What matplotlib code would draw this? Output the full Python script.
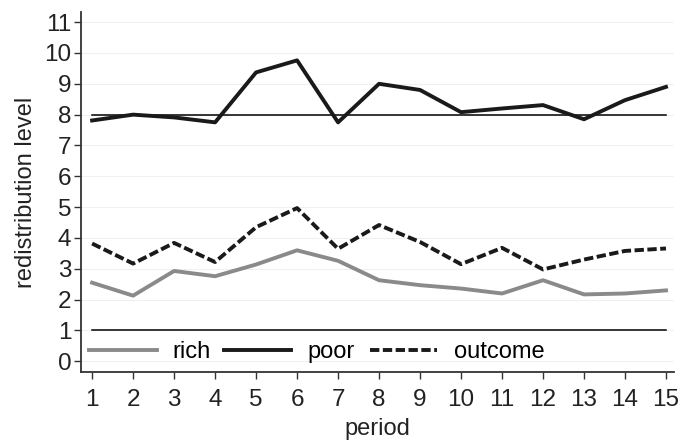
import matplotlib
matplotlib.use("Agg")
import matplotlib.pyplot as plt
from matplotlib.legend import Legend

periods = list(range(1, 16))
rich = [2.55, 2.13, 2.93, 2.76, 3.14, 3.60, 3.26, 2.63, 2.47, 2.36, 2.20, 2.63, 2.17, 2.20, 2.30]
poor = [7.81, 8.00, 7.91, 7.75, 9.37, 9.76, 7.75, 9.00, 8.80, 8.08, 8.20, 8.31, 7.85, 8.47, 8.90]
outcome = [3.82, 3.17, 3.84, 3.22, 4.35, 4.97, 3.65, 4.42, 3.87, 3.15, 3.68, 2.98, 3.30, 3.58, 3.66]
ref_levels = [1, 8]
y_ticks = list(range(0, 12))

plt.rcParams['font.family'] = ['Liberation Sans', 'DejaVu Sans']

fig = plt.figure(figsize=(6.81, 4.43), dpi=100)
ax = fig.add_axes([0.119, 0.160, 0.871, 0.813])

for y in y_ticks:
    ax.axhline(y, color='#f0f0f0', lw=0.8, zorder=0)
for y in ref_levels:
    ax.plot([periods[0], periods[-1]], [y, y], color='black', lw=1.1, zorder=1)

l_rich, = ax.plot(periods, rich, color='#8a8a8a', lw=2.8, label='rich', zorder=3)
l_poor, = ax.plot(periods, poor, color='#1a1a1a', lw=2.8, label='poor', zorder=3)
l_out, = ax.plot(periods, outcome, color='#1a1a1a', lw=2.8, ls=(0, (2.4, 0.9)),
                 label='outcome', zorder=3)

ax.set_xlim(0.73, 15.2)
ax.set_ylim(-0.35, 11.33)
ax.set_xticks(periods)
ax.set_yticks(y_ticks)
ax.tick_params(axis='both', labelsize=17.5, color='#333333', length=5, width=1.0,
               labelcolor='#222222')
ax.tick_params(axis='x', pad=7)
ax.tick_params(axis='y', pad=2)
for side in ['top', 'right']:
    ax.spines[side].set_visible(False)
for side in ['left', 'bottom']:
    ax.spines[side].set_color('#333333')
    ax.spines[side].set_linewidth(1.3)

ax.set_xlabel('period', fontsize=17, color='#222222', labelpad=5)
ax.set_ylabel('redistribution level', fontsize=17, color='#222222', labelpad=5)

# one legend entry per slot, spaced evenly along the bottom of the plot area
slots = [(l_rich, 0.002), (l_poor, 0.2285), (l_out, 0.4755)]
for line, x0 in slots:
    leg = Legend(ax, [line], [line.get_label()], loc='center left',
                 bbox_to_anchor=(x0, 0.055), frameon=False, fontsize=17,
                 handlelength=2.85, handletextpad=0.68, borderaxespad=0.0,
                 borderpad=0.3)
    ax.add_artist(leg)

fig.savefig('out.png', dpi=100)
